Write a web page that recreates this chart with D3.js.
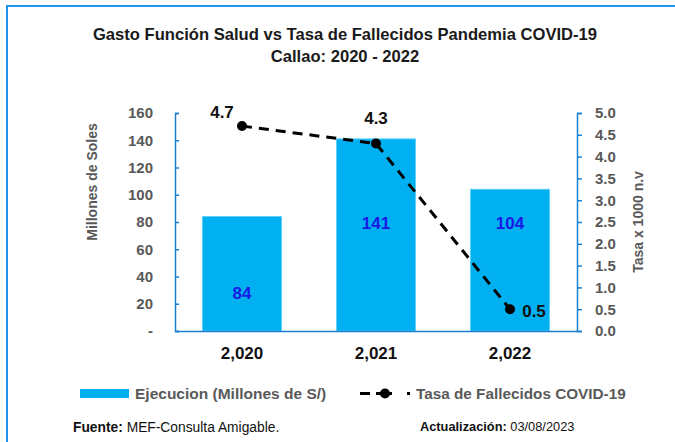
<!DOCTYPE html>
<html>
<head>
<meta charset="utf-8">
<script src="https://cdn.jsdelivr.net/npm/d3@7"></script>
<style>
  body { margin: 0; background: #fff; }
  text { font-family: "Liberation Sans", Arial, sans-serif; }
</style>
</head>
<body>
<script>
// Gasto vs tasa de fallecidos, Callao

var years = ["2,020", "2,021", "2,022"];
var gasto = [84, 141, 104];          // millones de soles
var tasa = [4.7, 4.3, 0.5];          // x 1000 n.v
var leftTicks = [0, 20, 40, 60, 80, 100, 120, 140, 160];
var rightTicks = [0, 0.5, 1, 1.5, 2, 2.5, 3, 3.5, 4, 4.5, 5];

var W = 675, H = 442;
var plot = { left: 175, right: 577, top: 113, bottom: 331 };

var svg = d3.select("body").append("svg")
  .attr("width", W)
  .attr("height", H);

// outer frame (only top/left show)
svg.append("rect")
  .attr("x", 7).attr("y", 6)
  .attr("width", W).attr("height", H)
  .attr("fill", "none")
  .attr("stroke", "#1e96f0")
  .attr("stroke-width", 2);

// title
svg.append("text")
  .attr("x", 345).attr("y", 40)
  .attr("text-anchor", "middle")
  .attr("font-size", 16.6).attr("font-weight", "bold")
  .attr("fill", "#1a1a1a")
  .text("Gasto Función Salud vs Tasa de Fallecidos Pandemia COVID-19");
svg.append("text")
  .attr("x", 345).attr("y", 62)
  .attr("text-anchor", "middle")
  .attr("font-size", 16.6).attr("font-weight", "bold")
  .attr("fill", "#1a1a1a")
  .text("Callao: 2020 - 2022");

var x = d3.scaleBand()
  .domain(years)
  .range([plot.left, plot.right])
  .paddingInner(0.41)
  .paddingOuter(0.205);

var yL = d3.scaleLinear().domain([0, 160]).range([plot.bottom, plot.top]);
var yR = d3.scaleLinear().domain([0, 5]).range([plot.bottom, plot.top]);

var axisColor = "#1a7fd0";

// bars
svg.selectAll(".bar")
  .data(gasto)
  .enter().append("rect")
  .attr("class", "bar")
  .attr("x", function(d, i){ return x(years[i]); })
  .attr("y", function(d){ return yL(d); })
  .attr("width", x.bandwidth())
  .attr("height", function(d){ return plot.bottom - yL(d); })
  .attr("fill", "#00b0f0")
  .attr("stroke", "#5fd0f8")
  .attr("stroke-width", 1);

// left axis
var yAxisL = d3.axisLeft(yL)
  .tickValues(leftTicks)
  .tickSize(-4)
  .tickPadding(22)
  .tickFormat(function(d){ return d == 0 ? "-" : d; });

var gL = svg.append("g")
  .attr("class", "y axis")
  .attr("transform", "translate(" + plot.left + ",0)")
  .call(yAxisL);
gL.select(".domain").attr("stroke", axisColor).attr("stroke-width", 1.5);
gL.selectAll(".tick line").attr("stroke", axisColor).attr("stroke-width", 1.5);
gL.selectAll(".tick text")
  .attr("font-size", 15).attr("font-weight", "bold").attr("fill", "#595959");

// right axis
var yAxisR = d3.axisRight(yR)
  .tickValues(rightTicks)
  .tickSize(5)
  .tickPadding(13)
  .tickFormat(d3.format(".1f"));

var gR = svg.append("g")
  .attr("class", "y axis")
  .attr("transform", "translate(" + plot.right + ",0)")
  .call(yAxisR);
gR.select(".domain").attr("stroke", axisColor).attr("stroke-width", 1.5);
gR.selectAll(".tick line").attr("stroke", axisColor).attr("stroke-width", 1.5);
gR.selectAll(".tick text")
  .attr("font-size", 15).attr("font-weight", "bold").attr("fill", "#595959");

// bottom axis
var xAxis = d3.axisBottom(x).tickSize(0).tickPadding(16);
var gX = svg.append("g")
  .attr("class", "x axis")
  .attr("transform", "translate(0," + plot.bottom + ")")
  .call(xAxis);
gX.select(".domain").attr("stroke", axisColor).attr("stroke-width", 1.5);
gX.selectAll(".tick text")
  .attr("font-size", 17).attr("font-weight", "bold").attr("fill", "#111");

// axis titles
svg.append("text")
  .attr("transform", "translate(97,182) rotate(-90)")
  .attr("text-anchor", "middle")
  .attr("font-size", 14).attr("font-weight", "bold").attr("fill", "#595959")
  .text("Millones de Soles");
svg.append("text")
  .attr("transform", "translate(643,222) rotate(-90)")
  .attr("text-anchor", "middle")
  .attr("font-size", 14).attr("font-weight", "bold").attr("fill", "#595959")
  .text("Tasa x 1000 n.v");

// bar values
svg.selectAll(".amount")
  .data(gasto)
  .enter().append("text")
  .attr("class", "amount")
  .attr("x", function(d, i){ return x(years[i]) + x.bandwidth() / 2; })
  .attr("y", function(d, i){ return i == 0 ? 299 : 229; })
  .attr("text-anchor", "middle")
  .attr("font-size", 17).attr("font-weight", "bold").attr("fill", "#1a1ae6")
  .text(function(d){ return d; });

// rate line
var line = d3.line()
  .x(function(d, i){ return x(years[i]) + x.bandwidth() / 2; })
  .y(function(d){ return yR(d); });

svg.append("path")
  .datum(tasa)
  .attr("d", line)
  .attr("fill", "none")
  .attr("stroke", "#000")
  .attr("stroke-width", 3)
  .attr("stroke-dasharray", "10,7");

svg.selectAll(".dot")
  .data(tasa)
  .enter().append("circle")
  .attr("class", "dot")
  .attr("cx", function(d, i){ return x(years[i]) + x.bandwidth() / 2; })
  .attr("cy", function(d){ return yR(d); })
  .attr("r", 5)
  .attr("fill", "#000");

var labelOff = [[-20, -8], [0, -20], [24, 8]];
svg.selectAll(".rate")
  .data(tasa)
  .enter().append("text")
  .attr("class", "rate")
  .attr("x", function(d, i){ return x(years[i]) + x.bandwidth() / 2 + labelOff[i][0]; })
  .attr("y", function(d, i){ return yR(d) + labelOff[i][1]; })
  .attr("text-anchor", "middle")
  .attr("font-size", 17).attr("font-weight", "bold").attr("fill", "#111")
  .text(function(d){ return d3.format(".1f")(d); });

// legend
var leg = svg.append("g").attr("class", "legend");
leg.append("rect")
  .attr("x", 80).attr("y", 389)
  .attr("width", 49).attr("height", 9)
  .attr("fill", "#00b0f0");
leg.append("text")
  .attr("x", 135).attr("y", 399)
  .attr("font-size", 15.5).attr("font-weight", "bold").attr("fill", "#595959")
  .text("Ejecucion (Millones de S/)");
leg.append("line")
  .attr("x1", 360).attr("x2", 412)
  .attr("y1", 393.5).attr("y2", 393.5)
  .attr("stroke", "#000").attr("stroke-width", 3)
  .attr("stroke-dasharray", "10,6,16,15,3");
leg.append("circle")
  .attr("cx", 385).attr("cy", 393.5).attr("r", 5)
  .attr("fill", "#000");
leg.append("text")
  .attr("x", 416).attr("y", 399)
  .attr("font-size", 15.3).attr("font-weight", "bold").attr("fill", "#595959")
  .text("Tasa de Fallecidos COVID-19");

// footer
var f1 = svg.append("text")
  .attr("x", 73).attr("y", 432)
  .attr("font-size", 13.8).attr("fill", "#111");
f1.append("tspan").attr("font-weight", "bold").text("Fuente: ");
f1.append("tspan").text("MEF-Consulta Amigable.");

var f2 = svg.append("text")
  .attr("x", 420).attr("y", 431)
  .attr("font-size", 12.8).attr("fill", "#111");
f2.append("tspan").attr("font-weight", "bold").text("Actualización: ");
f2.append("tspan").text("03/08/2023");
</script>
</body>
</html>
